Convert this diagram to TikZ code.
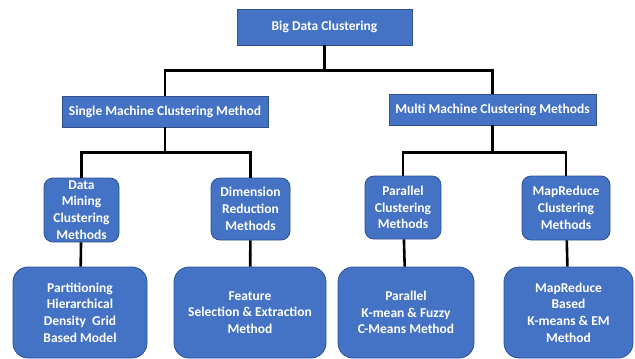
\documentclass[tikz,border=0pt]{standalone}
\usepackage{fontspec}
\setmainfont{Carlito}
\usepackage{xcolor}
\usepackage{tikz}
\usetikzlibrary{positioning}
\definecolor{boxblue}{HTML}{4472C4}
\definecolor{boxedge}{HTML}{2F528F}
\tikzstyle{header} = [rectangle, draw=boxedge, fill=boxblue, text=white, font=\bfseries\fontsize{13.5}{16.7}\selectfont, align=center, inner sep=0pt, line width=0.8pt]
\tikzstyle{method} = [header, rounded corners=9pt]
\tikzstyle{model} = [header, rounded corners=15pt, minimum height=91pt]
\tikzstyle{link} = [line width=2.6pt, black]

\begin{document}
\begin{tikzpicture}[x=1pt, y=-1pt]
        \useasboundingbox (0,0) rectangle (635,359);
        \node [header, minimum width=175pt, minimum height=36pt] (root) at (324.5,27) {Big Data Clustering};

        \node [header, minimum width=206pt, minimum height=31pt] (single) at (165,111.5) {Single Machine Clustering Method};
        \node [header, minimum width=207pt, minimum height=31pt] (multi) at (492.5,109.5) {Multi Machine Clustering Methods};

        \node [method, minimum width=75pt, minimum height=64pt] (mining) at (81.5,210) {Data\\Mining\\Clustering\\Methods};
        \node [method, minimum width=79pt, minimum height=62pt] (reduction) at (250.5,209) {Dimension\\Reduction\\Methods};
        \node [method, minimum width=76pt, minimum height=63pt] (parallel) at (403,207.5) {Parallel\\Clustering\\Methods};
        \node [method, minimum width=88pt, minimum height=64pt] (mapreduce) at (566,208) {MapReduce\\Clustering\\Methods};

        \node [model, minimum width=134pt] (partition) at (80,312.5) {Partitioning\\Hierarchical\\Density~ Grid\\Based Model};
        \node [model, minimum width=152pt] (feature) at (250,312.5) {Feature\\Selection \& Extraction\\Method};
        \node [model, minimum width=136pt] (kmean) at (406,312.5) {Parallel\\K-mean \& Fuzzy\\C-Means Method};
        \node [model, minimum width=129pt] (mrbased) at (568.5,312.5) {MapReduce\\Based\\K-means \& EM\\Method};

        % tree links
        \draw [link] (root.south) -- ++(0,25) coordinate (busroot);
        \draw [link] (single.north) |- (busroot) -| (multi.north);
        \draw [link] (single.south) -- ++(0,25) coordinate (bussingle);
        \draw [link] (mining.north) |- (bussingle) -| (reduction.north);
        \draw [link] (multi.south) -- ++(0,27) coordinate (busmulti);
        \draw [link] (parallel.north) |- (busmulti) -| (mapreduce.north);

        \draw [link] (mining) -- (partition);
        \draw [link] (reduction) -- (feature);
        \draw [link] (parallel) -- (kmean);
        \draw [link] (mapreduce) -- (mrbased);
    \end{tikzpicture}
\end{document}
